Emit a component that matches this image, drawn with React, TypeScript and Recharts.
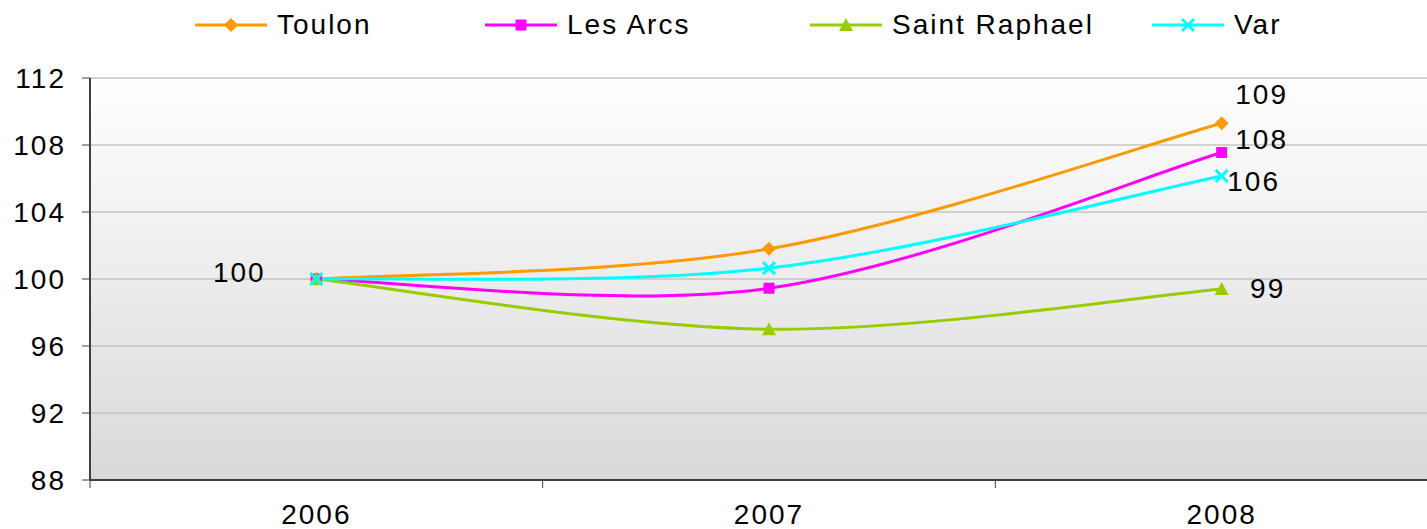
import React from "react";
import {
  LineChart,
  Line,
  XAxis,
  YAxis,
  CartesianGrid,
  LabelList,
} from "recharts";

const categories = ["2006", "2007", "2008"];
const toulon = [100, 101.8, 109.3];
const lesArcs = [100, 99.45, 107.55];
const saintRaphael = [100, 97.0, 99.4];
const varDept = [100, 100.65, 106.15];
const yTicks = [88, 92, 96, 100, 104, 108, 112];

const FONT = "'Liberation Sans', Arial, sans-serif";

type Shape = "diamond" | "square" | "triangle" | "cross";

const series: {
  key: string;
  name: string;
  color: string;
  shape: Shape;
  labels: { idx: number; dx: number; dy: number }[];
}[] = [
  { key: "toulon", name: "Toulon", color: "#FF9900", shape: "diamond", labels: [{ idx: 0, dx: -77, dy: -7 }, { idx: 2, dx: 40, dy: -29 }] },
  { key: "lesArcs", name: "Les Arcs", color: "#FF00FF", shape: "square", labels: [{ idx: 2, dx: 40, dy: -13 }] },
  { key: "saintRaphael", name: "Saint Raphael", color: "#99CC00", shape: "triangle", labels: [{ idx: 2, dx: 46, dy: -1 }] },
  { key: "varDept", name: "Var", color: "#00FFFF", shape: "cross", labels: [{ idx: 2, dx: 32, dy: 6 }] },
];

const data = categories.map((year, i) => ({
  x: i + 0.5,
  year,
  toulon: toulon[i],
  lesArcs: lesArcs[i],
  saintRaphael: saintRaphael[i],
  varDept: varDept[i],
}));

// Excel-style smoothing: cubic bezier with control points at 1/6 of neighbour spread
function excelCurve(context: any) {
  let pts: number[][] = [];
  return {
    areaStart() {},
    areaEnd() {},
    lineStart() {
      pts = [];
    },
    point(x: number, y: number) {
      pts.push([+x, +y]);
    },
    lineEnd() {
      const n = pts.length;
      if (!n) return;
      context.moveTo(pts[0][0], pts[0][1]);
      for (let i = 0; i < n - 1; i++) {
        const p0 = pts[i - 1] || pts[i];
        const p1 = pts[i];
        const p2 = pts[i + 1];
        const p3 = pts[i + 2] || pts[i + 1];
        context.bezierCurveTo(
          p1[0] + (p2[0] - p0[0]) / 6,
          p1[1] + (p2[1] - p0[1]) / 6,
          p2[0] - (p3[0] - p1[0]) / 6,
          p2[1] - (p3[1] - p1[1]) / 6,
          p2[0],
          p2[1]
        );
      }
    },
  };
}

function Marker({ cx, cy, shape, color }: { cx: number; cy: number; shape: Shape; color: string }) {
  if (cx == null || cy == null) return null;
  if (shape === "diamond")
    return <polygon points={`${cx},${cy - 7} ${cx + 7},${cy} ${cx},${cy + 7} ${cx - 7},${cy}`} fill={color} />;
  if (shape === "square") return <rect x={cx - 5.5} y={cy - 5.5} width={11} height={11} fill={color} />;
  if (shape === "triangle")
    return <polygon points={`${cx},${cy - 7} ${cx + 7},${cy + 6} ${cx - 7},${cy + 6}`} fill={color} />;
  return (
    <g stroke={color} strokeWidth={3}>
      <line x1={cx - 6} y1={cy - 6} x2={cx + 6} y2={cy + 6} />
      <line x1={cx - 6} y1={cy + 6} x2={cx + 6} y2={cy - 6} />
    </g>
  );
}

function XTick(props: any) {
  const { x, y, payload } = props;
  const v = payload.value as number;
  if (Number.isInteger(v)) {
    return <line x1={x} y1={y} x2={x} y2={y + 8} stroke="#404040" strokeWidth={1} />;
  }
  return (
    <text x={x} y={y + 44} textAnchor="middle" fill="#000" fontSize={28} fontFamily={FONT} letterSpacing={2}>
      {categories[Math.floor(v)]}
    </text>
  );
}

function Legend() {
  const widths = [290, 325, 342, 200];
  return (
    <div style={{ position: "absolute", left: 195, top: 7, display: "flex", alignItems: "center", height: 36 }}>
      {series.map((s, i) => (
        <div key={s.key} style={{ width: widths[i], display: "flex", alignItems: "center" }}>
          <svg width={72} height={20}>
            <line x1={0} y1={10} x2={72} y2={10} stroke={s.color} strokeWidth={3} />
            <Marker cx={36} cy={10} shape={s.shape} color={s.color} />
          </svg>
          <span style={{ marginLeft: 10, fontFamily: FONT, fontSize: 28, letterSpacing: 2, color: "#000" }}>
            {s.name}
          </span>
        </div>
      ))}
    </div>
  );
}

export default function App() {
  return (
    <div style={{ position: "absolute", left: 0, top: 0, width: 1427, height: 529, overflow: "hidden", background: "#fff" }}>
      <Legend />
      <LineChart width={1448} height={529} data={data} margin={{ top: 78, right: 0, bottom: 0, left: 0 }}>
        <defs>
          <linearGradient id="plotBg" x1="0" y1="0" x2="0" y2="1">
            <stop offset="0%" stopColor="#ffffff" />
            <stop offset="100%" stopColor="#d9d9d9" />
          </linearGradient>
        </defs>
        <CartesianGrid vertical={false} stroke="#c4c4c4" strokeWidth={1.5} fill="url(#plotBg)" fillOpacity={1} />
        <XAxis
          type="number"
          dataKey="x"
          domain={[0, 3]}
          ticks={[0, 0.5, 1, 1.5, 2, 2.5, 3]}
          interval={0}
          tick={<XTick />}
          tickLine={false}
          tickSize={0}
          tickMargin={0}
          axisLine={{ stroke: "#404040", strokeWidth: 2 }}
          height={49}
        />
        <YAxis
          domain={[88, 112]}
          ticks={yTicks}
          interval={0}
          width={90}
          tickSize={8}
          tickMargin={16}
          tickLine={{ stroke: "#404040" }}
          axisLine={{ stroke: "#404040", strokeWidth: 2 }}
          tick={{ fill: "#000", fontSize: 28, fontFamily: FONT, letterSpacing: 2 }}
        />
        {series.map((s) => (
          <Line
            key={s.key}
            dataKey={s.key}
            name={s.name}
            type={excelCurve as any}
            stroke={s.color}
            strokeWidth={3}
            isAnimationActive={false}
            dot={(p: any) => <Marker key={`${s.key}-${p.index}`} cx={p.cx} cy={p.cy} shape={s.shape} color={s.color} />}
            activeDot={false}
          >
            <LabelList
              dataKey={s.key}
              content={(p: any) => {
                const l = s.labels.find((q) => q.idx === p.index);
                if (!l) return null;
                return (
                  <text
                    x={p.x + l.dx}
                    y={p.y + l.dy}
                    textAnchor="middle"
                    dominantBaseline="central"
                    fill="#000"
                    fontSize={28}
                    fontFamily={FONT}
                    letterSpacing={2}
                  >
                    {Math.round(Number(p.value))}
                  </text>
                );
              }}
            />
          </Line>
        ))}
      </LineChart>
    </div>
  );
}
